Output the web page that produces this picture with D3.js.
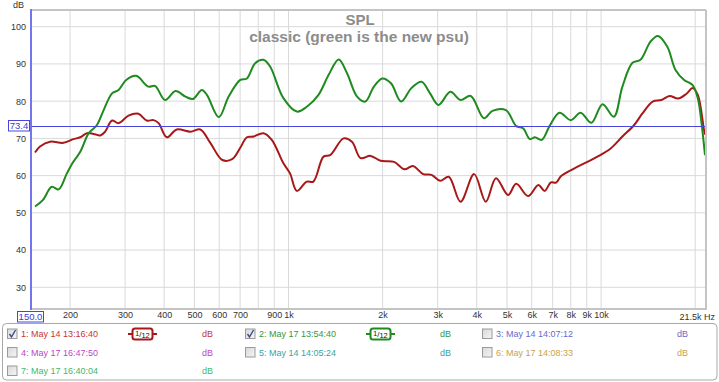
<!DOCTYPE html>
<html>
<head>
<meta charset="utf-8">
<script src="https://cdn.jsdelivr.net/npm/d3@7"></script>
<style>
  html, body { margin: 0; padding: 0; background: #fff; }
  svg { display: block; font-family: "Liberation Sans", Arial, sans-serif; }
</style>
</head>
<body>
<svg id="chart" width="719" height="382"></svg>
<script>
// ---- data ----
const redFreq = [154.5,160.3,172.6,190.4,204.9,215.6,226.6,237.9,250,259,272.5,285.9,307.5,331,351.7,370,384,408,439,486,522,562,614,660,700,736,773,831,884,963,1011,1063,1144,1201,1294,1359,1500,1596,1700,1830,1970,2178,2349,2500,2697,2868,3055,3256,3551,3925,4277,4610,5040,5350,5840,6300,6600,6910,7180,7450,8190,9040,9730,10730,11700,12760,13560,14620,15580,16560,17630,18770,19630,20390,21300,21500];
const redDb   = [66.2,67.8,69.1,68.8,69.8,70.3,71.4,71.2,70.8,71.8,74.8,74.1,76.1,76.6,74.8,74.9,74.1,70.3,72.4,71.8,72.4,68.8,64.2,64.4,67.4,70.3,70.5,71.4,69.6,63.3,60.6,55.9,58.4,58.4,65.1,65.5,70.0,69.1,64.7,65.3,64.0,63.7,61.7,62.6,60.4,60.2,58.6,59.7,53.0,60.4,53.0,59.3,54.8,57.8,54.5,57.5,55.9,58.2,58.1,59.9,61.9,63.7,65.1,67.3,70.5,73.6,76.7,79.9,80.3,81.4,80.7,82.0,83.5,81.7,72.7,71.0];
const greenFreq = [154.5,163.6,174.8,183.9,195.4,204.9,215.6,229.5,243.9,255,272.5,285.9,302.5,325.5,356,374,403,435,468,495,528,548,598.5,643,701,736,782,831,873,963,1063,1144,1247,1343,1447,1539,1657,1760,1876,1996,2127,2293,2472,2665,2836,3019,3294,3551,3828,4218,4491,4962,5350,5628,5917,6144,6459,6840,7360,8000,8600,9310,10110,10980,11700,12600,13370,14390,15200,16290,17300,18440,19630,20390,20900,21500];
const greenDb   = [51.7,53.4,57.0,56.3,60.6,63.7,66.4,71.4,73.6,77.2,82.1,83.0,85.7,86.8,83.9,84.1,80.3,82.7,81.2,80.6,83.0,81.7,75.7,81.2,85.7,86.1,90.2,91.1,89.3,80.8,77.2,78.5,81.7,87.0,91.2,87.5,81.2,79.9,83.9,86.1,84.8,79.9,83.5,85.2,82.1,79.0,82.5,80.3,81.4,75.4,77.4,77.6,73.3,72.7,69.8,70.3,69.6,73.3,76.9,74.9,76.9,74.2,79.2,75.8,83.9,90.3,91.1,96.0,97.5,94.6,88.4,85.7,84.3,80.8,74.9,65.5];

const gridFreqs = [200,300,400,500,600,700,800,900,1000,2000,3000,4000,5000,6000,7000,8000,9000,10000,20000];
const xTickVals = [200,300,400,500,600,700,900,1000,2000,3000,4000,5000,6000,7000,8000,9000,10000];
const xTickLabels = ["200","300","400","500","600","700","900","1k","2k","3k","4k","5k","6k","7k","8k","9k","10k"];
const yTickVals = [30,40,50,60,70,80,90,100];
const cursorDb = 73.4;
const cursorFreqLabel = "150.0";
const title = "SPL";
const subtitle = "classic (green is the new psu)";

const legendLabels = ["1: May 14 13:16:40","2: May 17 13:54:40","3: May 14 14:07:12","4: May 17 16:47:50","5: May 14 14:05:24","6: May 17 14:08:33","7: May 17 16:40:04"];
const legendColors = ["#c83434","#3a963a","#6a6ac8","#b848c8","#3aa2a6","#c8a448","#44b86a"];
const legendChecked = [true,true,false,false,false,false,false];
const legendSmoothing = [true,true,false,false,false,false,false];

// ---- layout ----
const svg = d3.select("#chart");
const L = 31, R = 705, T = 10, B = 308;
const x = d3.scaleLog().domain([150, 21500]).range([L, R]);
const y = d3.scaleLinear().domain([30, 100]).range([287.3, 26.7]);

svg.append("defs").append("clipPath").attr("id","clip")
  .append("rect").attr("x", L).attr("y", T).attr("width", R - L).attr("height", B - T);

// grid
const grid = svg.append("g");
grid.selectAll("line.v").data(gridFreqs).join("line")
  .attr("x1", d => x(d)).attr("x2", d => x(d)).attr("y1", T).attr("y2", B)
  .attr("stroke", "#d9d9d9").attr("stroke-width", 1);
grid.selectAll("line.h").data(yTickVals).join("line")
  .attr("x1", L).attr("x2", R).attr("y1", d => y(d)).attr("y2", d => y(d))
  .attr("stroke", "#d9d9d9").attr("stroke-width", 1);

// frame
svg.append("line").attr("x1", L).attr("x2", R + 1).attr("y1", T).attr("y2", T).attr("stroke", "#c4c4c4").attr("stroke-width", 2);
svg.append("line").attr("x1", L).attr("x2", R + 1).attr("y1", B + 1).attr("y2", B + 1).attr("stroke", "#c4c4c4").attr("stroke-width", 2);
svg.append("line").attr("x1", R + 1).attr("x2", R + 1).attr("y1", T).attr("y2", B + 2).attr("stroke", "#c4c4c4").attr("stroke-width", 2);

// curves
const line = d3.line().x(d => x(d[0])).y(d => y(d[1])).curve(d3.curveCatmullRom.alpha(0.5));
const plot = svg.append("g").attr("clip-path", "url(#clip)");
plot.append("path").datum(d3.zip(redFreq, redDb)).attr("d", line)
  .attr("fill", "none").attr("stroke", "#a81818").attr("stroke-width", 2);
plot.append("path").datum(d3.zip(greenFreq, greenDb)).attr("d", line)
  .attr("fill", "none").attr("stroke", "#1f8a1f").attr("stroke-width", 2);

// cursor lines
svg.append("line").attr("x1", L).attr("x2", R).attr("y1", Math.round(y(cursorDb)) + 0.5).attr("y2", Math.round(y(cursorDb)) + 0.5)
  .attr("stroke", "#4646dc").attr("stroke-width", 1);
svg.append("line").attr("x1", L).attr("x2", L).attr("y1", T - 1).attr("y2", B + 2)
  .attr("stroke", "#7474ec").attr("stroke-width", 2);

// axes
const xAxis = svg.append("g").attr("transform", `translate(0,${B + 2})`)
  .call(d3.axisBottom(x).tickValues(xTickVals).tickFormat((d, i) => xTickLabels[i]).tickSize(0).tickPadding(2));
const yAxis = svg.append("g").attr("transform", `translate(${L},0)`)
  .call(d3.axisLeft(y).tickValues(yTickVals).tickFormat(d3.format("d")).tickSize(0).tickPadding(5));
[xAxis, yAxis].forEach(g => {
  g.select(".domain").remove();
  g.selectAll("text").attr("font-size", 9).attr("fill", "#333").attr("font-family", "Liberation Sans, Arial, sans-serif");
});

svg.append("text").attr("x", 715).attr("y", 320).attr("text-anchor", "end")
  .attr("font-size", 9).attr("fill", "#333").text("21.5k Hz");
svg.append("text").attr("x", 24).attr("y", 8).attr("text-anchor", "end")
  .attr("font-size", 9).attr("fill", "#333").text("dB");

// cursor value boxes
svg.append("rect").attr("x", 8.5).attr("y", 120.5).attr("width", 21).attr("height", 10.5).attr("fill", "#fff").attr("stroke", "#4646dc");
svg.append("text").attr("x", 19).attr("y", 129.2).attr("text-anchor", "middle").attr("font-size", 9.5).attr("fill", "#3c3ccc").text(cursorDb.toFixed(1));
svg.append("rect").attr("x", 17.5).attr("y", 311.5).attr("width", 26).attr("height", 10.5).attr("fill", "#fff").attr("stroke", "#4646dc");
svg.append("text").attr("x", 30.5).attr("y", 320.2).attr("text-anchor", "middle").attr("font-size", 9.5).attr("fill", "#3c3ccc").text(cursorFreqLabel);

// titles
svg.append("text").attr("x", 360).attr("y", 25).attr("text-anchor", "middle")
  .attr("font-size", 15).attr("font-weight", "bold").attr("fill", "#8c8c8c").text(title);
svg.append("text").attr("x", 359).attr("y", 41.5).attr("text-anchor", "middle")
  .attr("font-size", 15.5).attr("font-weight", "bold").attr("fill", "#8c8c8c").text(subtitle);

// legend
svg.append("rect").attr("x", 2.5).attr("y", 323.5).attr("width", 714.5).attr("height", 56.5).attr("rx", 4)
  .attr("fill", "#fff").attr("stroke", "#a8a8a8");
const grad = svg.select("defs").append("linearGradient").attr("id", "cb").attr("x1", 0).attr("y1", 0).attr("x2", 1).attr("y2", 1);
grad.append("stop").attr("offset", "0").attr("stop-color", "#d8d8d8");
grad.append("stop").attr("offset", "1").attr("stop-color", "#f6f6f6");

const colCb = [7.5, 245.5, 482.5], colDb = [202, 440, 677], colIcon = [128, 366];
const rowY = [334, 352.5, 371];
legendLabels.forEach((lab, i) => {
  const c = i % 3, r = Math.floor(i / 3), cy = rowY[r];
  const g = svg.append("g");
  g.append("rect").attr("x", colCb[c]).attr("y", cy - 5).attr("width", 9.5).attr("height", 9.5)
    .attr("fill", "url(#cb)").attr("stroke", "#9a9a9a");
  if (legendChecked[i]) {
    g.append("path").attr("d", `M${colCb[c] + 2},${cy} L${colCb[c] + 4},${cy + 3} L${colCb[c] + 8},${cy - 4}`)
      .attr("fill", "none").attr("stroke", "#3a4a8a").attr("stroke-width", 1.4);
  }
  g.append("text").attr("x", colCb[c] + 13.5).attr("y", cy + 3.3).attr("font-size", 9).attr("fill", legendColors[i]).text(lab);
  g.append("text").attr("x", colDb[c]).attr("y", cy + 3.3).attr("font-size", 9).attr("fill", legendColors[i]).text("dB");
  if (legendSmoothing[i]) {
    const ix = colIcon[c];
    const col = i === 0 ? "#a81818" : "#1f8a1f";
    g.append("line").attr("x1", ix).attr("x2", ix + 29).attr("y1", cy).attr("y2", cy).attr("stroke", col).attr("stroke-width", 2);
    g.append("rect").attr("x", ix + 4.5).attr("y", cy - 5.5).attr("width", 20).attr("height", 11).attr("rx", 2.5)
      .attr("fill", "#fff").attr("stroke", col).attr("stroke-width", 2);
    const t = g.append("text").attr("x", ix + 14.5).attr("y", cy + 3.5).attr("text-anchor", "middle").attr("fill", "#111").attr("font-size", 8);
    t.append("tspan").attr("font-size", 7).attr("dy", -2).text("1");
    t.append("tspan").attr("dy", 1).text("/");
    t.append("tspan").attr("font-size", 7.5).attr("dy", 1).text("12");
  }
});
</script>
</body>
</html>
